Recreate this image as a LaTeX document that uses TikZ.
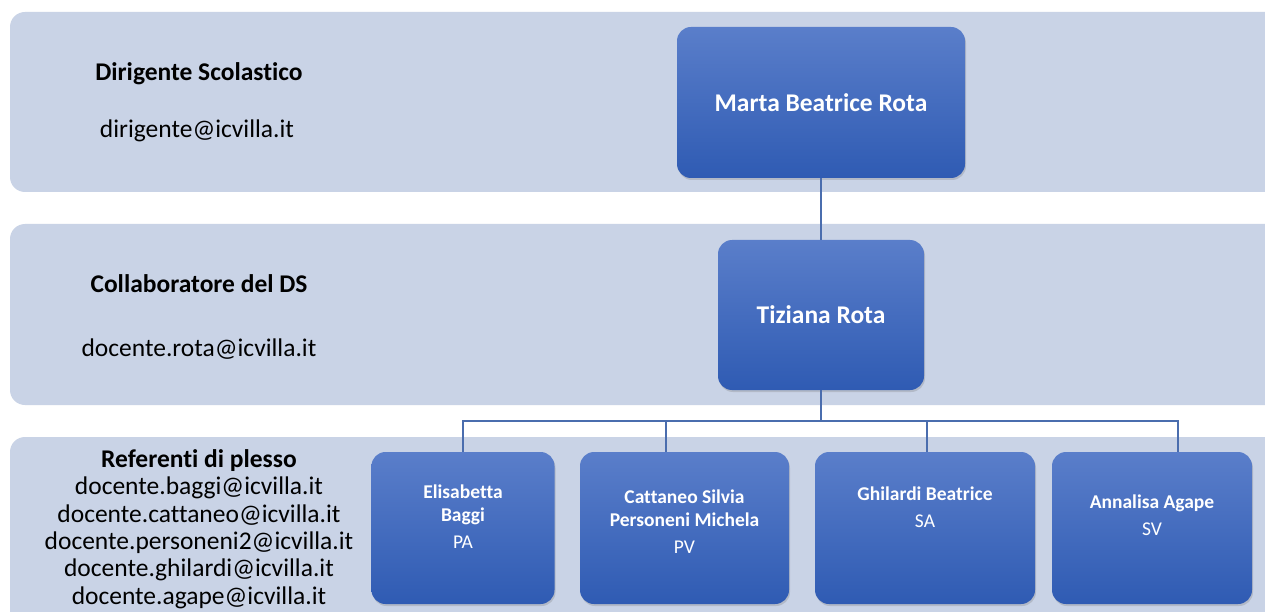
\documentclass[tikz,border=0pt]{standalone}
\usepackage{fontspec}
\setmainfont{Carlito}[Ligatures=NoCommon]
\usetikzlibrary{shadows}

\definecolor{bandblue}{HTML}{C9D3E6}
\definecolor{boxtop}{HTML}{5A7ECA}
\definecolor{boxmid}{HTML}{3A6AC6}
\definecolor{boxbot}{HTML}{2F5BB3}
\definecolor{linkblue}{HTML}{4A6DAE}

\begin{document}
\begin{tikzpicture}[x=1pt,y=-1pt,
	band/.style={fill=bandblue,rounded corners=15pt},
	bluenode/.style={rounded corners=14pt,top color=boxtop,middle color=boxmid,bottom color=boxbot,
		drop shadow={shadow xshift=1pt,shadow yshift=-2pt,opacity=0.3},inner sep=0pt},
	bigname/.style={text=white,font=\bfseries\fontsize{25.5}{30}\selectfont,align=center},
	smallname/.style={text=white,font=\fontsize{19.5}{23}\selectfont,align=center},
	headtext/.style={font=\bfseries\fontsize{25.5}{30}\selectfont,align=center},
	mailtext/.style={font=\fontsize{25.5}{30}\selectfont,align=center},
	link/.style={draw=linkblue,line width=1.2pt}]

		\clip (0,0) rectangle (1265,612);
		\fill[white] (0,0) rectangle (1265,612);

		% bands
		\fill[band] (10,12) rectangle (1300,192);
		\fill[band] (10,224) rectangle (1300,405);
		\fill[band] (10,437) rectangle (1300,650);

		% left column
		\node[headtext] (dshead)	at (199,74)	{Dirigente Scolastico};
		\node[mailtext] (dsmail)	at (197,131)	{dirigente@icvilla.it};
		\node[headtext] (cohead)	at (199,284)	{Collaboratore del DS};
		\node[mailtext] (comail)	at (199,349)	{docente.rota@icvilla.it};
		\node[mailtext,font=\fontsize{25.5}{27.4}\selectfont] (refs) at (199,529)
			{\textbf{Referenti di plesso}\\docente.baggi@icvilla.it\\docente.cattaneo@icvilla.it\\
			docente.personeni2@icvilla.it\\docente.ghilardi@icvilla.it\\docente.agape@icvilla.it};

		% boxes
		\node[bluenode,minimum width=288,minimum height=151,bigname] (marta)	at (821,102.5)	{Marta Beatrice Rota};
		\node[bluenode,minimum width=206,minimum height=150,bigname] (tiziana)	at (821,315)	{Tiziana Rota};

		\node[bluenode,minimum width=183,minimum height=152] (pa)	at (463,528)	{};
		\node[bluenode,minimum width=209,minimum height=152] (pv)	at (684.5,528)	{};
		\node[bluenode,minimum width=220,minimum height=152] (sa)	at (925,528)	{};
		\node[bluenode,minimum width=200,minimum height=152] (sv)	at (1152,528)	{};

		\path (pa.north) ++(0,65) node[smallname] (patext) {\textbf{Elisabetta}\\\textbf{Baggi}\\[4pt]PA};
		\path (pv.north) ++(0,70) node[smallname] (pvtext) {\textbf{Cattaneo Silvia}\\\textbf{Personeni Michela}\\[4pt]PV};
		\path (sa.north) ++(0,55) node[smallname] (satext) {\textbf{Ghilardi Beatrice}\\[4pt]SA};
		\path (sv.north) ++(0,63) node[smallname] (svtext) {\textbf{Annalisa Agape}\\[4pt]SV};

		% connectors
		\coordinate (fork) at (821,421);
		\draw[link] (marta) -- (tiziana);
		\draw[link] (tiziana) -- (fork);
		\draw[link] (fork) -| (pa);
		\draw[link] (fork) -| ([xshift=-18.5pt]pv.north);
		\draw[link] (fork) -| ([xshift=2pt]sa.north);
		\draw[link] (fork) -| ([xshift=26pt]sv.north);
	\end{tikzpicture}
\end{document}
